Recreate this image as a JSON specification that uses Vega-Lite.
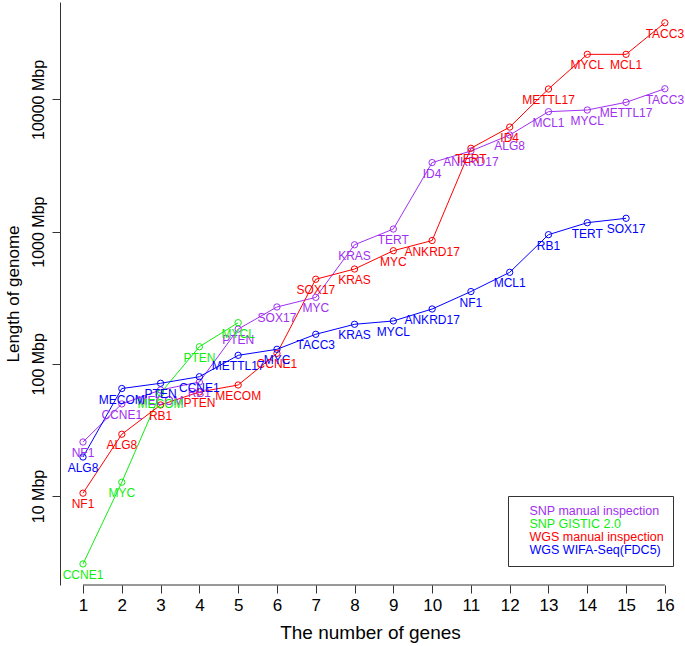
{
  "$schema": "https://vega.github.io/schema/vega-lite/v6.json",
  "autosize": "none",
  "width": 620,
  "height": 583,
  "padding": {"left": 60, "top": 2, "right": 5, "bottom": 61},
  "background": "white",
  "config": {
    "view": {"stroke": null},
    "font": "Liberation Sans",
    "axis": {"grid": false, "domainColor": "#333", "tickColor": "#333", "labelColor": "#000", "titleColor": "#000", "labelFont": "Liberation Sans", "titleFont": "Liberation Sans", "titleFontWeight": "normal"}
  },
  "datasets": {
    "genes": [
      {"s": "SNP manual inspection", "n": 1, "len": 25.6, "gene": "NF1"},
      {"s": "SNP manual inspection", "n": 2, "len": 49.7, "gene": "CCNE1"},
      {"s": "SNP manual inspection", "n": 3, "len": 63.4, "gene": "MECOM"},
      {"s": "SNP manual inspection", "n": 4, "len": 72.8, "gene": "RB1"},
      {"s": "SNP manual inspection", "n": 5, "len": 183, "gene": "PTEN"},
      {"s": "SNP manual inspection", "n": 6, "len": 269, "gene": "SOX17"},
      {"s": "SNP manual inspection", "n": 7, "len": 318, "gene": "MYC"},
      {"s": "SNP manual inspection", "n": 8, "len": 795, "gene": "KRAS"},
      {"s": "SNP manual inspection", "n": 9, "len": 1046, "gene": "TERT"},
      {"s": "SNP manual inspection", "n": 10, "len": 3330, "gene": "ID4"},
      {"s": "SNP manual inspection", "n": 11, "len": 4070, "gene": "ANKRD17"},
      {"s": "SNP manual inspection", "n": 12, "len": 5380, "gene": "ALG8"},
      {"s": "SNP manual inspection", "n": 13, "len": 8080, "gene": "MCL1"},
      {"s": "SNP manual inspection", "n": 14, "len": 8320, "gene": "MYCL"},
      {"s": "SNP manual inspection", "n": 15, "len": 9510, "gene": "METTL17"},
      {"s": "SNP manual inspection", "n": 16, "len": 12050, "gene": "TACC3"},
      {"s": "SNP GISTIC 2.0", "n": 1, "len": 3.06, "gene": "CCNE1"},
      {"s": "SNP GISTIC 2.0", "n": 2, "len": 12.7, "gene": "MYC"},
      {"s": "SNP GISTIC 2.0", "n": 3, "len": 60.1, "gene": "MECOM"},
      {"s": "SNP GISTIC 2.0", "n": 4, "len": 134.6, "gene": "PTEN"},
      {"s": "SNP GISTIC 2.0", "n": 5, "len": 204.6, "gene": "MYCL"},
      {"s": "WGS manual inspection", "n": 1, "len": 10.5, "gene": "NF1"},
      {"s": "WGS manual inspection", "n": 2, "len": 29.3, "gene": "ALG8"},
      {"s": "WGS manual inspection", "n": 3, "len": 48.8, "gene": "RB1"},
      {"s": "WGS manual inspection", "n": 4, "len": 61.2, "gene": "PTEN"},
      {"s": "WGS manual inspection", "n": 5, "len": 69.1, "gene": "MECOM"},
      {"s": "WGS manual inspection", "n": 6, "len": 120, "gene": "CCNE1"},
      {"s": "WGS manual inspection", "n": 7, "len": 436, "gene": "SOX17"},
      {"s": "WGS manual inspection", "n": 8, "len": 521, "gene": "KRAS"},
      {"s": "WGS manual inspection", "n": 9, "len": 717, "gene": "MYC"},
      {"s": "WGS manual inspection", "n": 10, "len": 856, "gene": "ANKRD17"},
      {"s": "WGS manual inspection", "n": 11, "len": 4270, "gene": "TERT"},
      {"s": "WGS manual inspection", "n": 12, "len": 6180, "gene": "ID4"},
      {"s": "WGS manual inspection", "n": 13, "len": 11990, "gene": "METTL17"},
      {"s": "WGS manual inspection", "n": 14, "len": 21940, "gene": "MYCL"},
      {"s": "WGS manual inspection", "n": 15, "len": 21940, "gene": "MCL1"},
      {"s": "WGS manual inspection", "n": 16, "len": 38020, "gene": "TACC3"},
      {"s": "WGS WIFA-Seq(FDC5)", "n": 1, "len": 19.7, "gene": "ALG8"},
      {"s": "WGS WIFA-Seq(FDC5)", "n": 2, "len": 65.0, "gene": "MECOM"},
      {"s": "WGS WIFA-Seq(FDC5)", "n": 3, "len": 71.2, "gene": "PTEN"},
      {"s": "WGS WIFA-Seq(FDC5)", "n": 4, "len": 79.8, "gene": "CCNE1"},
      {"s": "WGS WIFA-Seq(FDC5)", "n": 5, "len": 115.9, "gene": "METTL17"},
      {"s": "WGS WIFA-Seq(FDC5)", "n": 6, "len": 128.7, "gene": "MYC"},
      {"s": "WGS WIFA-Seq(FDC5)", "n": 7, "len": 167.2, "gene": "TACC3"},
      {"s": "WGS WIFA-Seq(FDC5)", "n": 8, "len": 199, "gene": "KRAS"},
      {"s": "WGS WIFA-Seq(FDC5)", "n": 9, "len": 210.8, "gene": "MYCL"},
      {"s": "WGS WIFA-Seq(FDC5)", "n": 10, "len": 259.7, "gene": "ANKRD17"},
      {"s": "WGS WIFA-Seq(FDC5)", "n": 11, "len": 352, "gene": "NF1"},
      {"s": "WGS WIFA-Seq(FDC5)", "n": 12, "len": 492, "gene": "MCL1"},
      {"s": "WGS WIFA-Seq(FDC5)", "n": 13, "len": 948, "gene": "RB1"},
      {"s": "WGS WIFA-Seq(FDC5)", "n": 14, "len": 1168, "gene": "TERT"},
      {"s": "WGS WIFA-Seq(FDC5)", "n": 15, "len": 1261, "gene": "SOX17"}
    ],
    "axisline": [{"n": 1, "n2": 16, "len": 2.12}]
  },
  "encoding": {
    "x": {
      "field": "n", "type": "quantitative",
      "scale": {"domain": [0.407, 16.39], "nice": false, "zero": false},
      "axis": {"values": [1,2,3,4,5,6,7,8,9,10,11,12,13,14,15,16], "domain": false, "tickSize": 8, "labelFontSize": 17, "labelPadding": 4, "title": "The number of genes", "titleFontSize": 19, "titlePadding": 10, "labelFlush": false}
    },
    "y": {
      "field": "len", "type": "quantitative",
      "scale": {"type": "log", "domain": [2.12, 54600], "nice": false, "zero": false},
      "axis": {"values": [10, 100, 1000, 10000], "labelExpr": "datum.value + ' Mbp'", "labelAngle": -90, "labelAlign": "center", "labelBaseline": "bottom", "tickSize": 8, "labelPadding": 6, "labelFontSize": 16, "title": "Length of genome", "titleFontSize": 17, "titlePadding": 8, "labelFlush": false}
    }
  },
  "layer": [
    {
      "data": {"name": "axisline"},
      "mark": {"type": "rule", "color": "#333", "strokeWidth": 1},
      "encoding": {
        "x2": {"field": "n2"}
      }
    },
    {
      "data": {"name": "genes"},
      "mark": {"type": "line", "strokeWidth": 1},
      "encoding": {
        "color": {
          "field": "s", "type": "nominal",
          "scale": {"domain": ["SNP manual inspection", "SNP GISTIC 2.0", "WGS manual inspection", "WGS WIFA-Seq(FDC5)"], "range": ["#A030F0", "#10EE10", "#FF0000", "#0000FF"]},
          "legend": {
            "orient": "none", "legendX": 448, "legendY": 494, "title": null,
            "strokeColor": "#333", "fillColor": "white", "padding": 9,
            "labelFontSize": 12.5, "labelFont": "Liberation Sans", "labelLimit": 0, "labelOffset": 0,
            "symbolSize": 0, "symbolOpacity": 0, "symbolStrokeWidth": 0, "rowPadding": 0,
            "encode": {"labels": {"update": {"fill": {"scale": "color", "field": "value"}}}}
          }
        },
        "order": {"field": "n", "type": "quantitative"}
      }
    },
    {
      "data": {"name": "genes"},
      "mark": {"type": "point", "shape": "circle", "filled": false, "size": 40, "strokeWidth": 1, "opacity": 1},
      "encoding": {
        "color": {"field": "s", "type": "nominal"}
      }
    },
    {
      "data": {"name": "genes"},
      "mark": {"type": "text", "fontSize": 12, "dy": 11, "baseline": "middle", "align": "center", "font": "Liberation Sans"},
      "encoding": {
        "text": {"field": "gene"},
        "color": {"field": "s", "type": "nominal"}
      }
    }
  ]
}
